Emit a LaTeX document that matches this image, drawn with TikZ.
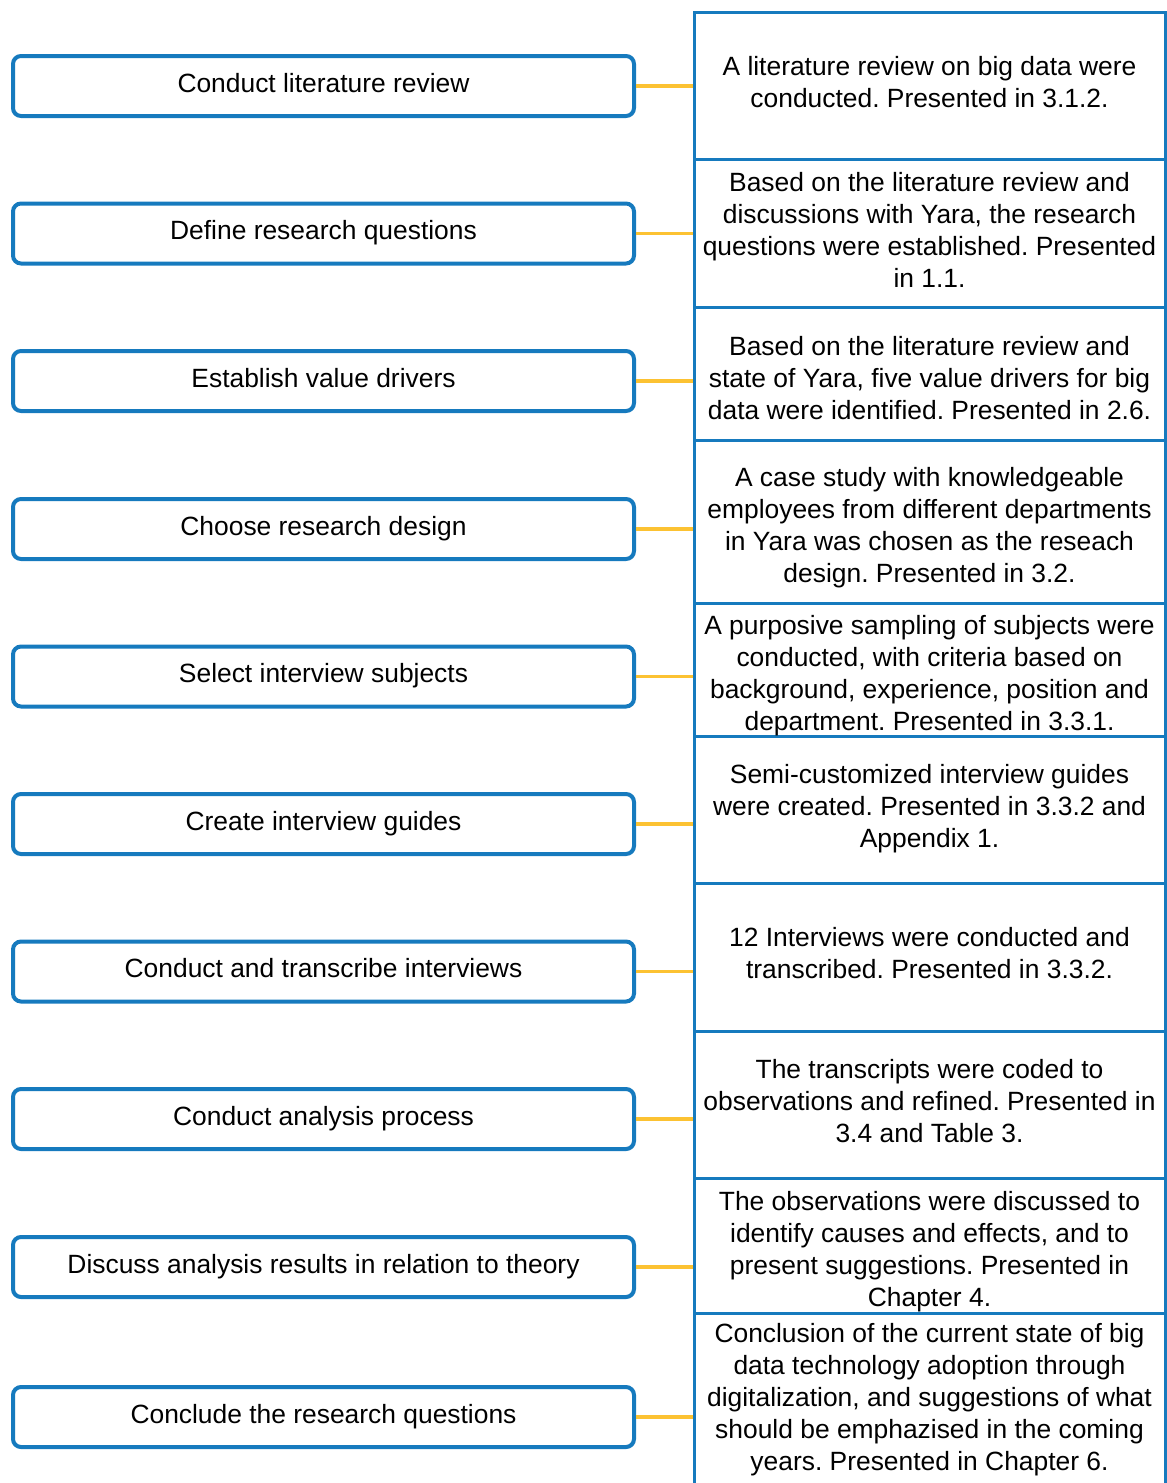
\documentclass[tikz,border=0pt]{standalone}
\usepackage{fontspec}
\setmainfont{Liberation Sans}
\frenchspacing
\definecolor{bblue}{RGB}{22,122,190}
\definecolor{byel}{RGB}{252,194,50}
\begin{document}
\frenchspacing
\begin{tikzpicture}[x=1pt,y=-1pt,
  lbox/.style={draw=bblue, line width=4pt, rounded corners=8pt, minimum width=621pt, minimum height=60pt, inner sep=0pt, fill=white, text height=19pt, text depth=7pt, font=\fontsize{26.4}{32}\selectfont},
  rbox/.style={draw=bblue, line width=3pt, minimum width=471pt, inner sep=0pt},
  rtext/.style={inner sep=0pt, align=center, font=\fontsize{26.4}{32}\selectfont},
  link/.style={draw=byel, line width=3.5pt}]
\useasboundingbox (0,0) rectangle (1167,1483);
% right column boxes
\node[rbox, minimum height=147pt] (r1) at (929.5,85.5) {};
\node[rbox, minimum height=148pt] (r2) at (929.5,233) {};
\node[rbox, minimum height=133pt] (r3) at (929.5,373.5) {};
\node[rbox, minimum height=163pt] (r4) at (929.5,521.5) {};
\node[rbox, minimum height=133pt] (r5) at (929.5,669.5) {};
\node[rbox, minimum height=147pt] (r6) at (929.5,809.5) {};
\node[rbox, minimum height=148pt] (r7) at (929.5,957) {};
\node[rbox, minimum height=147pt] (r8) at (929.5,1104.5) {};
\node[rbox, minimum height=135pt] (r9) at (929.5,1245.5) {};
\node[rbox, minimum height=172pt] (r10) at (929.5,1399) {};
% right column texts
\node[rtext] (t1) at (929.5,82.5) {A literature review on big data were\\conducted. Presented in 3.1.2.};
\node[rtext] (t2) at (929.5,230) {Based on the literature review and\\discussions with Yara, the research\\questions were established. Presented\\in 1.1.};
\node[rtext] (t3) at (929.5,378.5) {Based on the literature review and\\state of Yara, five value drivers for big\\data were identified. Presented in 2.6.};
\node[rtext] (t4) at (929.5,527.5) {A case study with knowledgeable\\employees from different departments\\in Yara was chosen as the reseach\\design. Presented in 3.2.};
\node[rtext] (t5) at (929.5,675.5) {A purposive sampling of subjects were\\conducted, with criteria based on\\background, experience, position and\\department. Presented in 3.3.1.};
\node[rtext] (t6) at (929.5,809) {Semi-customized interview guides\\were created. Presented in 3.3.2 and\\Appendix 1.};
\node[rtext] (t7) at (929.5,953) {12 Interviews were conducted and\\transcribed. Presented in 3.3.2.};
\node[rtext] (t8) at (929.5,1101.5) {The transcripts were coded to\\observations and refined. Presented in\\3.4 and Table 3.};
\node[rtext] (t9) at (929.5,1251.5) {The observations were discussed to\\identify causes and effects, and to\\present suggestions. Presented in\\Chapter 4.};
\node[rtext] (t10) at (929.5,1400) {Conclusion of the current state of big\\data technology adoption through\\digitalization, and suggestions of what\\should be emphazised in the coming\\years. Presented in Chapter 6.};
% left column
\node[lbox] (l1) at (323.5,86) {Conduct literature review};
\node[lbox] (l2) at (323.5,233.5) {Define research questions};
\node[lbox] (l3) at (323.5,381) {Establish value drivers};
\node[lbox] (l4) at (323.5,529) {Choose research design};
\node[lbox] (l5) at (323.5,676.5) {Select interview subjects};
\node[lbox] (l6) at (323.5,824) {Create interview guides};
\node[lbox] (l7) at (323.5,971.5) {Conduct and transcribe interviews};
\node[lbox] (l8) at (323.5,1119) {Conduct analysis process};
\node[lbox] (l9) at (323.5,1267) {Discuss analysis results in relation to theory};
\node[lbox] (l10) at (323.5,1417) {Conclude the research questions};
% connectors
\foreach \i in {1,...,10}{
  \draw[link] (l\i.east) -- (l\i.east -| r\i.west);
}
\end{tikzpicture}
\end{document}
